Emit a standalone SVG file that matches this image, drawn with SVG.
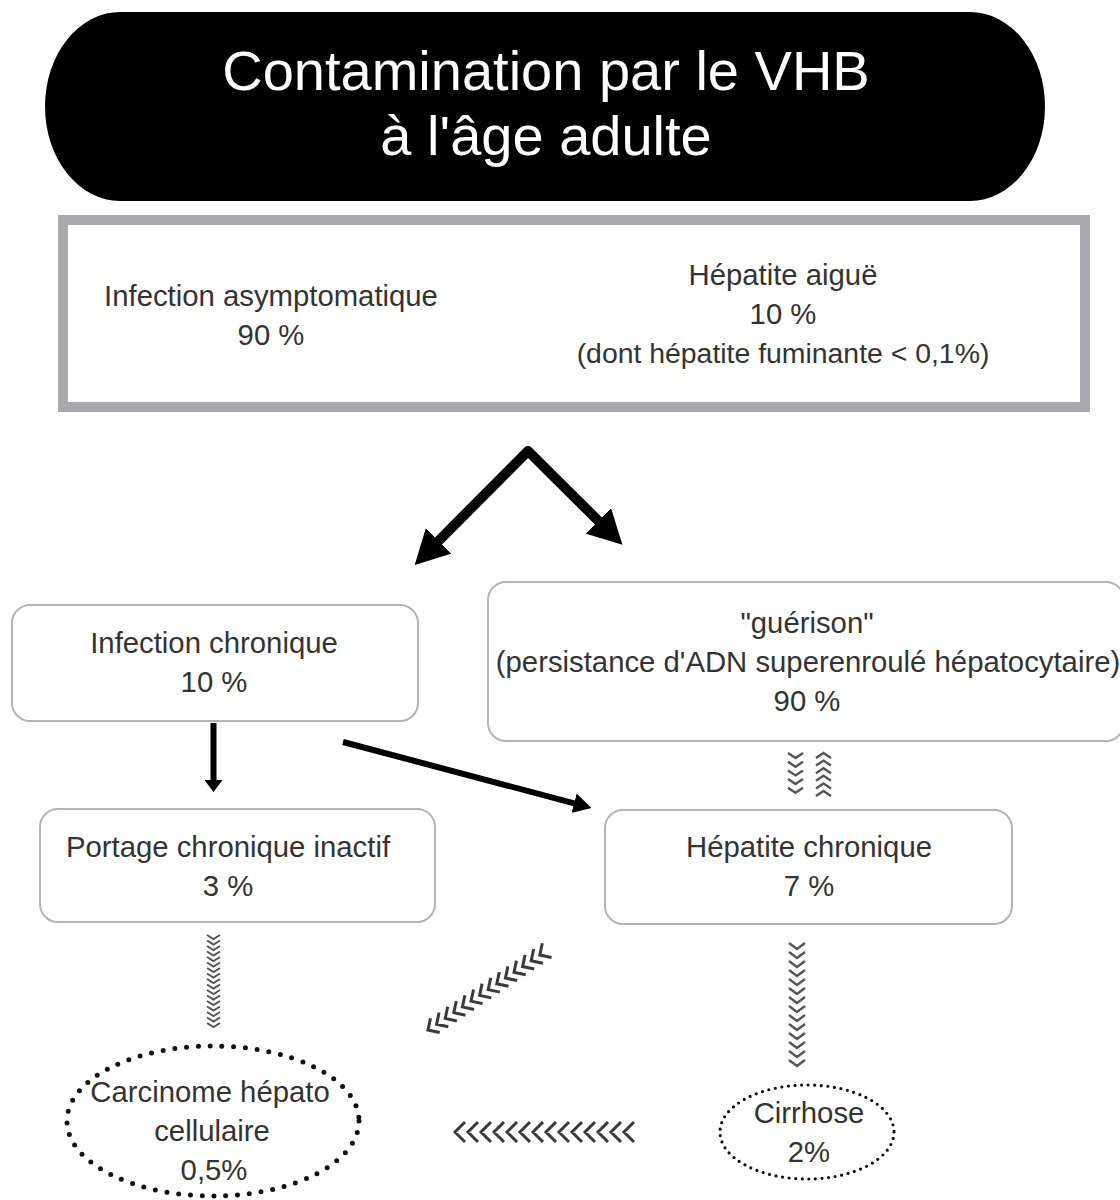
<svg xmlns="http://www.w3.org/2000/svg" width="1120" height="1200" viewBox="0 0 1120 1200">
  <defs>
    <style>
      .t { font-family: "Liberation Sans", Arial, sans-serif; font-size: 29.3px; fill: #333; text-anchor: middle; }
      .title { font-family: "Liberation Sans", Arial, sans-serif; font-size: 56px; fill: #fff; text-anchor: middle; }
      .box { fill: #fff; stroke: #b4b4b6; stroke-width: 2; }
      .arrow { fill: none; stroke: #000; stroke-linecap: butt; }
      .chev { fill: none; stroke: #3a3a3a; stroke-linejoin: miter; stroke-linecap: butt; }
      .chev-v { fill: none; stroke: #555; stroke-linejoin: miter; stroke-linecap: butt; }
      .dots-lg { fill: #fff; stroke: #111; stroke-width: 5; stroke-dasharray: 0 11.8; stroke-linecap: round; }
      .dots-sm { fill: #fff; stroke: #111; stroke-width: 3.2; stroke-dasharray: 0 6.6; stroke-linecap: round; }
    </style>
    <marker id="ah-big" markerUnits="userSpaceOnUse" viewBox="0 0 34 36" markerWidth="34" markerHeight="36" refX="8" refY="18" orient="auto-start-reverse">
      <path d="M0,0 L34,18 L0,36 z" fill="#000"/>
    </marker>
    <marker id="ah-sm" markerUnits="userSpaceOnUse" viewBox="0 0 12 18" markerWidth="12" markerHeight="18" refX="3" refY="9" orient="auto">
      <path d="M0,0 L12,9 L0,18 z" fill="#000"/>
    </marker>
    <marker id="ah-md" markerUnits="userSpaceOnUse" viewBox="0 0 18 20" markerWidth="18" markerHeight="20" refX="4" refY="10" orient="auto">
      <path d="M0,0 L18,10 L0,20 z" fill="#000"/>
    </marker>
  </defs>

  <rect width="1120" height="1200" fill="#fff"/>

  <g id="title">
    <rect x="45" y="12" width="1000" height="189" rx="75" ry="94.5" fill="#000"/>
    <text class="title" x="546" y="90">Contamination par le VHB</text>
    <text class="title" x="546" y="155">à l'âge adulte</text>
  </g>

  <g id="initial">
    <rect x="63" y="220" width="1022" height="187" fill="#fff" stroke="#aaaaae" stroke-width="10"/>
    <text class="t" x="271" y="306">Infection asymptomatique</text>
    <text class="t" x="271" y="345">90 %</text>
    <text class="t" x="783" y="285">Hépatite aiguë</text>
    <text class="t" x="783" y="324">10 %</text>
    <text class="t" x="783" y="363" style="font-size:28.4px">(dont hépatite fuminante &lt; 0,1%)</text>
  </g>

  <g id="infection-chronique">
    <rect class="box" x="12" y="605" width="406" height="116" rx="18"/>
    <text class="t" x="214" y="653">Infection chronique</text>
    <text class="t" x="214" y="692">10 %</text>
  </g>

  <g id="guerison">
    <rect class="box" x="488" y="582" width="636" height="159" rx="18"/>
    <text class="t" x="807" y="633">"guérison"</text>
    <text class="t" x="808" y="672">(persistance d'ADN superenroulé hépatocytaire)</text>
    <text class="t" x="807" y="711">90 %</text>
  </g>

  <g id="portage">
    <rect class="box" x="40" y="809" width="395" height="113" rx="18"/>
    <text class="t" x="228" y="857">Portage chronique inactif</text>
    <text class="t" x="228" y="896">3 %</text>
  </g>

  <g id="hepatite-chronique">
    <rect class="box" x="605" y="810" width="407" height="114" rx="18"/>
    <text class="t" x="809" y="857">Hépatite chronique</text>
    <text class="t" x="809" y="896">7 %</text>
  </g>

  <g id="carcinome">
    <ellipse class="dots-lg" cx="213" cy="1121" rx="146" ry="75"/>
    <text class="t" x="210" y="1102">Carcinome hépato</text>
    <text class="t" x="212" y="1141">cellulaire</text>
    <text class="t" x="214" y="1180">0,5%</text>
  </g>

  <g id="cirrhose">
    <ellipse class="dots-sm" cx="807" cy="1132" rx="87" ry="47"/>
    <text class="t" x="809" y="1123">Cirrhose</text>
    <text class="t" x="809" y="1162">2%</text>
  </g>

  <g id="connectors">
    <polyline class="arrow" points="433,546.5 528,451 604,526.5" stroke-width="10" stroke-linejoin="round" marker-start="url(#ah-big)" marker-end="url(#ah-big)"/>
    <line class="arrow" x1="213.5" y1="723" x2="213.5" y2="783" stroke-width="6" marker-end="url(#ah-sm)"/>
    <line class="arrow" x1="343" y1="742" x2="578" y2="804.3" stroke-width="6" marker-end="url(#ah-md)"/>

    <path class="chev-v" stroke-width="2" d="M207,935 l6.5,4 l6.5,-4 m-13,5.5 l6.5,4 l6.5,-4 m-13,5.5 l6.5,4 l6.5,-4 m-13,5.5 l6.5,4 l6.5,-4 m-13,5.5 l6.5,4 l6.5,-4 m-13,5.5 l6.5,4 l6.5,-4 m-13,5.5 l6.5,4 l6.5,-4 m-13,5.5 l6.5,4 l6.5,-4 m-13,5.5 l6.5,4 l6.5,-4 m-13,5.5 l6.5,4 l6.5,-4 m-13,5.5 l6.5,4 l6.5,-4 m-13,5.5 l6.5,4 l6.5,-4 m-13,5.5 l6.5,4 l6.5,-4 m-13,5.5 l6.5,4 l6.5,-4 m-13,5.5 l6.5,4 l6.5,-4 m-13,5.5 l6.5,4 l6.5,-4 m-13,5.5 l6.5,4 l6.5,-4"/>

    <path class="chev-v" stroke-width="2.4" d="M789,943 l8,6 l8,-6 m-16,9 l8,6 l8,-6 m-16,9 l8,6 l8,-6 m-16,9 l8,6 l8,-6 m-16,9 l8,6 l8,-6 m-16,9 l8,6 l8,-6 m-16,9 l8,6 l8,-6 m-16,9 l8,6 l8,-6 m-16,9 l8,6 l8,-6 m-16,9 l8,6 l8,-6 m-16,9 l8,6 l8,-6 m-16,9 l8,6 l8,-6 m-16,9 l8,6 l8,-6 m-16,9 l8,6 l8,-6"/>

    <path class="chev-v" stroke-width="2.4" d="M788,753 l7.5,5 l7.5,-5 m-15,8.7 l7.5,5 l7.5,-5 m-15,8.7 l7.5,5 l7.5,-5 m-15,8.7 l7.5,5 l7.5,-5 m-15,8.7 l7.5,5 l7.5,-5"/>

    <path class="chev-v" stroke-width="2.4" d="M816,758 l7.5,-5 l7.5,5 m-15,7.6 l7.5,-5 l7.5,5 m-15,7.6 l7.5,-5 l7.5,5 m-15,7.6 l7.5,-5 l7.5,5 m-15,7.6 l7.5,-5 l7.5,5 m-15,7.6 l7.5,-5 l7.5,5"/>

    <path class="chev" stroke-width="3" stroke="#222" d="M465,1122 l-10,10 l10,10 m13,-20 l-10,10 l10,10 m13,-20 l-10,10 l10,10 m13,-20 l-10,10 l10,10 m13,-20 l-10,10 l10,10 m13,-20 l-10,10 l10,10 m13,-20 l-10,10 l10,10 m13,-20 l-10,10 l10,10 m13,-20 l-10,10 l10,10 m13,-20 l-10,10 l10,10 m13,-20 l-10,10 l10,10 m13,-20 l-10,10 l10,10 m13,-20 l-10,10 l10,10 m13,-20 l-10,10 l10,10"/>

    <path class="chev" stroke-width="3" d="M430.5,1018.3 l-2.5,11.7 l11.7,2.5 m-0.6,-19.97 l-2.5,11.7 l11.7,2.5 m-0.6,-19.97 l-2.5,11.7 l11.7,2.5 m-0.6,-19.97 l-2.5,11.7 l11.7,2.5 m-0.6,-19.97 l-2.5,11.7 l11.7,2.5 m-0.6,-19.97 l-2.5,11.7 l11.7,2.5 m-0.6,-19.97 l-2.5,11.7 l11.7,2.5 m-0.6,-19.97 l-2.5,11.7 l11.7,2.5 m-0.6,-19.97 l-2.5,11.7 l11.7,2.5 m-0.6,-19.97 l-2.5,11.7 l11.7,2.5 m-0.6,-19.97 l-2.5,11.7 l11.7,2.5 m-0.6,-19.97 l-2.5,11.7 l11.7,2.5 m-0.6,-19.97 l-2.5,11.7 l11.7,2.5 m-0.6,-19.97 l-2.5,11.7 l11.7,2.5"/>
  </g>
</svg>
